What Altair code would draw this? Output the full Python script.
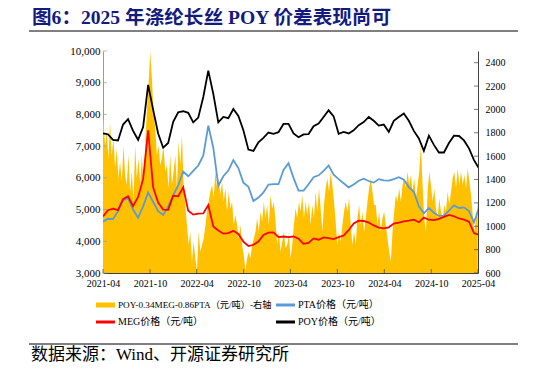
import altair as alt
import pandas as pd

# ---------------- data ----------------
title_text = "图6：2025 年涤纶长丝 POY 价差表现尚可"
source_text = "数据来源：Wind、开源证券研究所"
series_names = ["POY-0.34MEG-0.86PTA（元/吨）-右轴", "PTA价格（元/吨）", "MEG价格（元/吨）", "POY价格（元/吨）"]
series_colors = ["#FFC000", "#5B9BD5", "#FF0000", "#000000"]

left_ticks = [3000, 4000, 5000, 6000, 7000, 8000, 9000, 10000]
right_ticks = [600, 800, 1000, 1200, 1400, 1600, 1800, 2000, 2200, 2400]
x_tick_months = [(2021, 4), (2021, 10), (2022, 4), (2022, 10), (2023, 4),
                 (2023, 10), (2024, 4), (2024, 10), (2025, 4)]

# POY-0.34MEG-0.86PTA spread (right axis), ~weekly samples 2021-03-27 .. 2025-03-31
spread = [
    1753, 1938, 1690, 1810, 1582, 1880, 1610, 1753, 1496, 1667, 1410, 1553, 1382, 1690, 1440, 1353,
    1610, 1296, 1467, 1210, 1690, 1410, 1582, 1353, 1610, 1353, 1690, 1981, 2210, 2494, 2270, 1981,
    1838, 1610, 1690, 1524, 1582, 1690, 1467, 1524, 1325, 1610, 1353, 1467, 1610, 1325, 1725, 1524,
    1781, 1353, 1182, 1011, 840, 953, 697, 868, 725,
    620, 953, 782, 840, 896, 1000, 1125, 1210, 1296, 1353, 1239, 1467, 1325, 1410, 1268, 1382,
    1210, 1325, 1125, 1296, 1153, 1210, 1011, 1096, 1011, 896, 1011, 840, 754, 620, 725, 782,
    725, 840, 896, 953, 1068, 953, 1125, 1039, 1210, 1068, 1182, 1011, 1268, 1153, 1210, 1039,
    840, 953, 782, 868, 953, 811,
    840, 925, 725, 840, 1011, 1153, 1068, 1210, 1125, 1268, 1068, 1210, 1096, 1210, 1011, 1182,
    1068, 1296, 1125, 1325, 1153, 953, 1182, 1325, 1410, 1296, 1467, 1353, 1210, 1039, 840, 953,
    868, 1011, 1125, 1210, 1125, 1239, 1011, 840, 953, 840, 1068, 1182, 1011, 1125, 953, 1068,
    1210, 1325, 1410, 1296, 1182,
    1182, 1011, 1125, 953, 1068, 1125, 1011, 896, 782, 697, 953, 1125, 1268, 1210, 1325, 1210,
    1353, 1410, 1325, 1467, 1353, 1440, 1296, 1410, 1239, 1353, 1467, 1696, 1353, 1068, 953, 1296,
    1467, 1353, 1210, 1325, 1153, 1068, 1239, 1125, 1068, 1182, 1125, 1296, 1182, 1296, 1410, 1467,
    1325, 1496, 1353, 1467, 1353, 1440, 1325, 1496, 1382, 1268, 1096, 953, 1068, 1210,
]

# prices (left axis), samples 2021-04-01 .. 2025-04-05
poy = [
    7400, 7370, 7200, 7180, 7680, 7850, 7480, 7200, 7600, 8930, 8150, 7400, 6950, 7100, 7770, 8070,
    8100, 8050, 7750, 7900, 8550, 9380, 8650, 7750, 7920, 7880, 8170, 7950, 7500, 6890, 6850, 7120,
    7260, 7430, 7390, 7440, 7700, 7700, 7400, 7280, 7370, 7380, 7630, 7710, 7920, 8130, 7940, 7390,
    7450, 7400, 7500, 7660, 7760, 7920, 7800, 7650, 7680, 7450, 7800, 7920, 8030, 7800, 7480, 7240,
    6850, 7330, 7040, 6800, 6800, 7100, 7330, 7320, 7180, 6930, 6560, 6300,
]
pta = [
    4620, 4710, 4700, 4950, 5300, 5360, 5000, 4740, 5100, 5540, 5240, 4950, 4830, 5100, 5450, 5760,
    6200, 6050, 6220, 6390, 6700, 7650, 6950, 5750, 6050, 6230, 6560, 6310, 5850, 5720, 5270, 5380,
    5540, 5790, 5800, 5800, 6250, 6460, 6000, 5600, 5600, 5800, 6020, 6080, 6220, 6390, 6100, 5960,
    5830, 5700, 5790, 5910, 5975, 5900, 5850, 5960, 5920, 5910, 5960, 6020, 5940, 5710, 5560, 5100,
    4880, 5050, 4900, 4800, 4810, 4970, 5130, 5050, 5070, 4950, 4600, 5050,
]
meg = [
    4780, 4980, 5030, 4980, 5330, 5420, 5110, 5400, 5950, 7500, 5700, 5220, 5000, 4990, 5440, 5420,
    5700, 4960, 4840, 4870, 4880, 5140, 4470, 4340, 4240, 4260, 4330, 4230, 3990, 3850, 3890, 3990,
    4200, 4270, 4280, 4130, 4150, 4130, 4150, 4080, 3920, 3950, 4090, 4050, 4120, 4100, 4070, 4130,
    4180, 4350, 4560, 4650, 4640, 4590, 4500, 4430, 4410, 4440, 4560, 4590, 4630, 4650, 4680, 4600,
    4750, 4680, 4670, 4710, 4770, 4830, 4790, 4720, 4680, 4620, 4260, 4200,
]

spread_dates = pd.date_range("2021-03-27", "2025-03-31", periods=len(spread))
line_dates = pd.date_range("2021-04-01", "2025-04-05", periods=len(poy))

spread_df = pd.DataFrame({"date": spread_dates, "value": spread})
pta_df = pd.DataFrame({"date": line_dates, "value": pta})
meg_df = pd.DataFrame({"date": line_dates, "value": meg})
poy_df = pd.DataFrame({"date": line_dates, "value": poy})

left_tick_df = pd.DataFrame({"value": left_ticks})
right_tick_df = pd.DataFrame({"value": right_ticks})
x_tick_df = pd.DataFrame({"date": [pd.Timestamp(year=y, month=m, day=1) for y, m in x_tick_months]})

# ---------------- chart ----------------
FONT = "Liberation Serif, Noto Sans CJK SC"
W, H = 375, 222

x_enc = alt.X(
    "date:T",
    scale=alt.Scale(domain=[alt.DateTime(year=2021, month=4, date=1),
                            alt.DateTime(year=2025, month=4, date=1)]),
    axis=alt.Axis(
        values=[alt.DateTime(year=y, month=m, date=1) for y, m in x_tick_months],
        format="%Y-%m", title=None, labelAngle=0, grid=False, ticks=False,
        domainColor="#404040", labelFont=FONT, labelFontSize=10, labelColor="#000000",
        labelPadding=5, labelFlush=False, labelOverlap=False,
    ),
)

y_right = alt.Y(
    "value:Q",
    scale=alt.Scale(domain=[600, 2500], nice=False, zero=False),
    axis=alt.Axis(orient="right", values=right_ticks, format="d", title=None, grid=False,
                  ticks=False, domainColor="#404040", labelFont=FONT, labelFontSize=10,
                  labelColor="#000000", labelPadding=7),
)

y_left = alt.Y(
    "value:Q",
    scale=alt.Scale(domain=[3000, 10000], nice=False, zero=False),
    axis=alt.Axis(orient="left", values=left_ticks, format=",.0f", title=None, grid=False,
                  ticks=False, domainColor="#9a9a9a", labelFont=FONT, labelFontSize=11,
                  labelColor="#000000", labelPadding=3),
)

area = alt.Chart(spread_df).mark_area(color=series_colors[0], clip=True).encode(
    x=x_enc, y=y_right, y2=alt.datum(600),
)
right_tick_marks = alt.Chart(right_tick_df).mark_tick(
    color="#404040", thickness=1, size=4
).encode(y=y_right, x=alt.value(W - 2))

right_group = alt.layer(area, right_tick_marks)


def line_layer(df, color):
    return alt.Chart(df).mark_line(strokeWidth=1.8, clip=True, color=color).encode(
        x=x_enc, y=y_left,
    )


left_tick_marks = alt.Chart(left_tick_df).mark_tick(
    color="#9a9a9a", thickness=1, size=4
).encode(y=y_left, x=alt.value(2))

left_group = alt.layer(
    line_layer(pta_df, series_colors[1]),
    line_layer(meg_df, series_colors[2]),
    line_layer(poy_df, series_colors[3]),
    left_tick_marks,
)

x_tick_marks = alt.Chart(x_tick_df).mark_tick(
    color="#404040", thickness=1, size=4
).encode(x=x_enc, y=alt.value(H - 2))

one = pd.DataFrame({"t": [title_text], "s": [source_text]})

title = alt.Chart(one).mark_text(
    align="left", baseline="top", font=FONT, fontSize=19.6, fontWeight="bold", color="#141B7E"
).encode(text="t:N", x=alt.value(-71), y=alt.value(-42))

top_rule = alt.Chart(one).mark_rule(color="#000000", strokeWidth=1).encode(
    x=alt.value(-74), x2=alt.value(415), y=alt.value(-20))

bottom_rule = alt.Chart(one).mark_rule(color="#000000", strokeWidth=1).encode(
    x=alt.value(-74), x2=alt.value(415), y=alt.value(293))

source = alt.Chart(one).mark_text(
    align="left", baseline="middle", font=FONT, fontSize=17, color="#000000"
).encode(text="s:N", x=alt.value(-72), y=alt.value(304))

# manual legend (2 x 2 grid): x, y, swatch thickness, label size
legend_layers = []
legend_slots = [(-7, 254, 5, 9.2), (173, 254, 3, 10), (-7, 271, 3, 10), (173, 271, 3, 10)]
for name, color, (lx, ly, sw, fs) in zip(series_names, series_colors, legend_slots):
    legend_layers.append(
        alt.Chart(one).mark_rule(color=color, strokeWidth=sw).encode(
            x=alt.value(lx), x2=alt.value(lx + 19), y=alt.value(ly))
    )
    legend_layers.append(
        alt.Chart(pd.DataFrame({"n": [name]})).mark_text(
            align="left", baseline="middle", font=FONT, fontSize=fs, color="#000000"
        ).encode(text="n:N", x=alt.value(lx + 22), y=alt.value(ly))
    )

chart = alt.layer(
    right_group, left_group, x_tick_marks, title, top_rule, bottom_rule, source, *legend_layers
).resolve_scale(
    y="independent"
).properties(
    width=W, height=H,
    autosize=alt.AutoSizeParams(type="none"),
    padding={"left": 95, "top": 43, "right": 60, "bottom": 93},
    background="#ffffff",
).configure_view(strokeWidth=0)

chart.save("out.html", embed_options={"renderer": "svg", "actions": False})
